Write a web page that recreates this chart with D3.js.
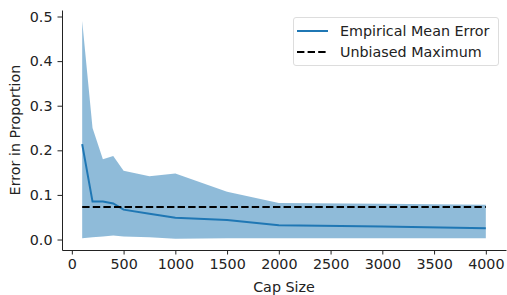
<!DOCTYPE html>
<html>
<head>
<meta charset="utf-8">
<script src="https://cdn.jsdelivr.net/npm/d3@7"></script>
<style>
  body { margin: 0; background: #fff; }
  text { font-family: "DejaVu Sans", sans-serif; }
</style>
</head>
<body>
<script>
const w = 507;
const h = 295;
const fs = 14.3;

// data
const capSizes = [100, 200, 300, 400, 500, 750, 1000, 1500, 2000, 3000, 4000];
const meanError = [0.214, 0.085, 0.085, 0.081, 0.067, 0.058, 0.049, 0.044, 0.032, 0.029, 0.025];
const upperBand = [0.49, 0.25, 0.18, 0.187, 0.154, 0.142, 0.148, 0.107, 0.082, 0.080, 0.078];
const lowerBand = [0.003, 0.005, 0.007, 0.009, 0.007, 0.005, 0.002, 0.003, 0.003, 0.003, 0.003];
const unbiasedMax = 0.073;
const xTicks = [0, 500, 1000, 1500, 2000, 2500, 3000, 3500, 4000];
const yTicks = [0.0, 0.1, 0.2, 0.3, 0.4, 0.5];
const legendLabels = ["Empirical Mean Error", "Unbiased Maximum"];

const data = capSizes.map((c, i) => ({ c: c, m: meanError[i], lo: lowerBand[i], hi: upperBand[i] }));

const svg = d3.select("body").append("svg")
    .attr("width", w)
    .attr("height", h);

const padL = 62, padR = 506, padT = 10, padB = 250;

const xScale = d3.scaleLinear()
    .domain([-95, 4195])
    .range([padL, padR]);

const yScale = d3.scaleLinear()
    .domain([-0.0235, 0.5146])
    .range([padB, padT]);

// band
const area = d3.area()
    .x(d => xScale(d.c))
    .y0(d => yScale(d.lo))
    .y1(d => yScale(d.hi));

svg.append("path")
    .datum(data)
    .attr("d", area)
    .attr("fill", "#1f77b4")
    .attr("fill-opacity", 0.5);

// mean line
const line = d3.line()
    .x(d => xScale(d.c))
    .y(d => yScale(d.m));

svg.append("path")
    .datum(data)
    .attr("d", line)
    .attr("fill", "none")
    .attr("stroke", "#1f77b4")
    .attr("stroke-width", 2);

// unbiased maximum
svg.append("line")
    .attr("x1", xScale(capSizes[0]))
    .attr("x2", xScale(capSizes[capSizes.length - 1]))
    .attr("y1", yScale(unbiasedMax))
    .attr("y2", yScale(unbiasedMax))
    .attr("stroke", "#000")
    .attr("stroke-width", 2)
    .attr("stroke-dasharray", "7.4,3.2");

// axes
const xAxis = d3.axisBottom(xScale)
    .tickValues(xTicks)
    .tickSize(4.5)
    .tickPadding(4)
    .tickSizeOuter(0)
    .tickFormat(d3.format("d"));

const yAxis = d3.axisLeft(yScale)
    .tickValues(yTicks)
    .tickSize(4.5)
    .tickPadding(5)
    .tickSizeOuter(0)
    .tickFormat(d3.format(".1f"));

const gx = svg.append("g")
    .attr("transform", "translate(0," + padB + ")")
    .call(xAxis);

const gy = svg.append("g")
    .attr("transform", "translate(" + padL + ",0)")
    .call(yAxis);

[gx, gy].forEach(g => {
    g.selectAll("text").attr("font-size", fs).attr("fill", "#222")
        .style("font-family", "DejaVu Sans, sans-serif");
    g.selectAll("line").attr("stroke", "#222");
    g.select(".domain").attr("stroke", "#222");
});

svg.append("text")
    .attr("x", (padL + padR) / 2)
    .attr("y", 292)
    .attr("text-anchor", "middle")
    .attr("font-size", fs)
    .attr("fill", "#222")
    .text("Cap Size");

svg.append("text")
    .attr("transform", "translate(19.5," + ((padT + padB) / 2) + ") rotate(-90)")
    .attr("text-anchor", "middle")
    .attr("font-size", fs)
    .attr("fill", "#222")
    .text("Error in Proportion");

// legend
const legend = svg.append("g");
legend.append("rect")
    .attr("x", 293.5)
    .attr("y", 17.5)
    .attr("width", 205)
    .attr("height", 48)
    .attr("rx", 2.5)
    .attr("fill", "#fff")
    .attr("fill-opacity", 0.8)
    .attr("stroke", "#ddd");

legendLabels.forEach((label, i) => {
    const y = 31 + i * 21;
    legend.append("line")
        .attr("x1", 297)
        .attr("x2", 328)
        .attr("y1", y)
        .attr("y2", y)
        .attr("stroke", i === 0 ? "#1f77b4" : "#000")
        .attr("stroke-width", 2)
        .attr("stroke-dasharray", i === 0 ? null : "7.4,3.2");
    legend.append("text")
        .attr("x", 340)
        .attr("y", y + 5)
        .attr("font-size", fs)
        .attr("fill", "#222")
        .text(label);
});
</script>
</body>
</html>
